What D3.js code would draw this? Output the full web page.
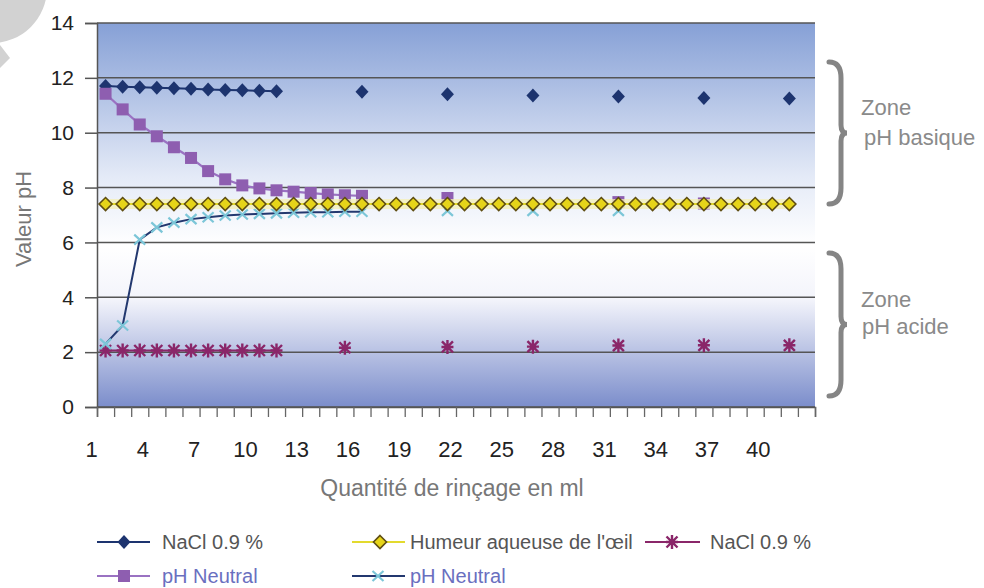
<!DOCTYPE html>
<html>
<head>
<meta charset="utf-8">
<script src="https://cdn.jsdelivr.net/npm/d3@7"></script>
<style>
  body { margin: 0; background: #fff; }
  svg { display: block; font-family: "Liberation Sans", Arial, sans-serif; }
</style>
</head>
<body>
<svg id="chart" width="984" height="588"></svg>
<script>
// categories on the x axis (ml)
const categories = [1, 2, 3, 4, 5, 6, 7, 8, 9, 10, 11, 12, 13, 14, 15, 16, 17, 18, 19, 20, 21,
  22, 23, 24, 25, 26, 27, 28, 29, 30, 31, 32, 33, 34, 35, 36, 37, 38, 39, 40, 41, 42];
const xTickLabels = [1, 4, 7, 10, 13, 16, 19, 22, 25, 28, 31, 34, 37, 40];
const yTicks = [0, 2, 4, 6, 8, 10, 12, 14];

// NaCl 0.9 % (basic, navy diamonds)
const naclBaseX = [1, 2, 3, 4, 5, 6, 7, 8, 9, 10, 11, 16, 21, 26, 31, 36, 41];
const naclBaseY = [11.7, 11.68, 11.66, 11.64, 11.62, 11.6, 11.58, 11.56, 11.55, 11.53, 11.51,
  11.49, 11.4, 11.36, 11.32, 11.27, 11.25];

// Humeur aqueuse de l'oeil (yellow diamonds)
const humeurX = [1, 2, 3, 4, 5, 6, 7, 8, 9, 10, 11, 12, 13, 14, 15, 16, 17, 18, 19, 20, 21,
  22, 23, 24, 25, 26, 27, 28, 29, 30, 31, 32, 33, 34, 35, 36, 37, 38, 39, 40, 41];
const humeurY = [7.4, 7.4, 7.4, 7.4, 7.4, 7.4, 7.4, 7.4, 7.4, 7.4, 7.4, 7.4, 7.4, 7.4, 7.4, 7.4,
  7.4, 7.4, 7.4, 7.4, 7.4, 7.4, 7.4, 7.4, 7.4, 7.4, 7.4, 7.4, 7.4, 7.4, 7.4, 7.4, 7.4, 7.4, 7.4,
  7.4, 7.4, 7.4, 7.4, 7.4, 7.4];

// NaCl 0.9 % (acid, purple asterisks)
const naclAcidX = [1, 2, 3, 4, 5, 6, 7, 8, 9, 10, 11, 15, 21, 26, 31, 36, 41];
const naclAcidY = [2.06, 2.06, 2.06, 2.06, 2.06, 2.06, 2.06, 2.06, 2.06, 2.06, 2.06,
  2.16, 2.19, 2.2, 2.24, 2.25, 2.25];

// pH Neutral (purple squares)
const neutralSqX = [1, 2, 3, 4, 5, 6, 7, 8, 9, 10, 11, 12, 13, 14, 15, 16, 21, 31, 36];
const neutralSqY = [11.42, 10.85, 10.3, 9.87, 9.47, 9.08, 8.6, 8.3, 8.08, 7.97, 7.9, 7.85,
  7.8, 7.75, 7.72, 7.7, 7.62, 7.47, 7.42];

// pH Neutral (cyan crosses)
const neutralXX = [1, 2, 3, 4, 5, 6, 7, 8, 9, 10, 11, 12, 13, 14, 15, 16, 21, 26, 31];
const neutralXY = [2.3, 2.97, 6.1, 6.55, 6.72, 6.85, 6.92, 6.98, 7.02, 7.04, 7.06, 7.08,
  7.1, 7.1, 7.12, 7.12, 7.15, 7.15, 7.15];

const svg = d3.select("#chart");
const plot = { left: 97, right: 815, top: 23, bottom: 407 };

// edges of the category slots, and the centre of each slot
const xEdge = d3.scaleLinear().domain([0, categories.length]).range([plot.left, plot.right]);
const x = (c) => xEdge(categories.indexOf(c) + 0.5);
const y = d3.scaleLinear().domain([0, 14]).range([plot.bottom, plot.top]);

// decoration top-left
svg.append("circle").attr("cx", -8).attr("cy", -12).attr("r", 55).attr("fill", "#d2d2d2");
svg.append("path").attr("d", "M0,45 L10,58 L0,68 Z").attr("fill", "#d2d2d2");

// background gradient
const defs = svg.append("defs");
const grad = defs.append("linearGradient").attr("id", "bg")
  .attr("x1", "0%").attr("y1", "0%").attr("x2", "0%").attr("y2", "100%");
grad.append("stop").attr("offset", "0%").attr("stop-color", "#86a0d6");
grad.append("stop").attr("offset", "40%").attr("stop-color", "#e4eaf7");
grad.append("stop").attr("offset", "58%").attr("stop-color", "#ffffff");
grad.append("stop").attr("offset", "72%").attr("stop-color", "#f3f4fb");
grad.append("stop").attr("offset", "100%").attr("stop-color", "#7b8dcb");

svg.append("rect")
  .attr("x", plot.left).attr("y", plot.top)
  .attr("width", plot.right - plot.left).attr("height", plot.bottom - plot.top)
  .attr("fill", "url(#bg)");

// horizontal gridlines
svg.append("g")
  .selectAll("line")
  .data(yTicks)
  .join("line")
  .attr("x1", plot.left).attr("x2", plot.right)
  .attr("y1", (d) => y(d)).attr("y2", (d) => y(d))
  .attr("stroke", "#555").attr("stroke-width", 1.5);

// y axis
const yAxis = svg.append("g")
  .attr("transform", `translate(${plot.left},0)`)
  .call(d3.axisLeft(y).tickValues(yTicks).tickSize(12).tickPadding(11));
yAxis.select(".domain").attr("stroke", "#555").attr("stroke-width", 1.5);
yAxis.selectAll(".tick line").attr("stroke", "#555").attr("stroke-width", 1.5);
yAxis.selectAll("text").attr("font-size", 21).attr("fill", "#222")
  .attr("font-family", "Liberation Sans, Arial, sans-serif");

// x axis tick marks at slot edges
const xAxis = svg.append("g")
  .attr("transform", `translate(0,${plot.bottom})`)
  .call(d3.axisBottom(xEdge).tickValues(d3.range(0, categories.length + 1)).tickSize(10).tickFormat(""));
xAxis.select(".domain").attr("stroke", "#555").attr("stroke-width", 1.5);
xAxis.selectAll(".tick line").attr("stroke", "#666").attr("stroke-width", 1.3);

// x labels every 3 categories
svg.append("g")
  .selectAll("text")
  .data(xTickLabels)
  .join("text")
  .attr("x", (d) => x(d) - 14)
  .attr("y", 457)
  .attr("text-anchor", "middle")
  .attr("font-size", 22)
  .attr("fill", "#222")
  .text((d) => d);

// axis titles
svg.append("text")
  .attr("x", 452).attr("y", 496)
  .attr("text-anchor", "middle")
  .attr("font-size", 23).attr("fill", "#777")
  .text("Quantité de rinçage en ml");

svg.append("text")
  .attr("transform", "translate(31,219) rotate(-90)")
  .attr("text-anchor", "middle")
  .attr("font-size", 22).attr("fill", "#777")
  .text("Valeur pH");

// marker shapes
const markers = {
  diamondNavy: (g) => g.append("path").attr("d", "M0,-7 L6.5,0 L0,7 L-6.5,0 Z").attr("fill", "#1d346f"),
  diamondYellow: (g) => g.append("path").attr("d", "M0,-6.5 L6.5,0 L0,6.5 L-6.5,0 Z")
    .attr("fill", "#e6d419").attr("stroke", "#5e4d12").attr("stroke-width", 1.6),
  asterisk: (g) => g.append("path").attr("d", "M-5.5,-5.5 L5.5,5.5 M5.5,-5.5 L-5.5,5.5 M0,-7 L0,7 M-6,0 L6,0")
    .attr("stroke", "#8a2669").attr("stroke-width", 2.4).attr("fill", "none"),
  square: (g) => g.append("rect").attr("x", -6).attr("y", -6).attr("width", 12).attr("height", 12)
    .attr("fill", "#8e5eb0"),
  cross: (g) => g.append("path").attr("d", "M-5.5,-5 L5.5,5 M5.5,-5 L-5.5,5")
    .attr("stroke", "#7cc6d8").attr("stroke-width", 2.2).attr("fill", "none")
};

// connect only consecutive categories (gaps stay open)
function runs(xs, ys) {
  const out = [];
  let cur = [];
  xs.forEach((c, i) => {
    if (cur.length && c - xs[i - 1] !== 1) { out.push(cur); cur = []; }
    cur.push([c, ys[i]]);
  });
  out.push(cur);
  return out.filter((r) => r.length > 1);
}

const line = d3.line().x((d) => x(d[0])).y((d) => y(d[1]));

function drawSeries(xs, ys, lineColor, lineWidth, marker, band) {
  const g = svg.append("g");
  const segs = runs(xs, ys);
  if (band) {
    g.selectAll(".band").data(segs).join("path").attr("class", "band")
      .attr("d", line).attr("fill", "none")
      .attr("stroke", band).attr("stroke-width", 10).attr("opacity", 0.75);
  }
  g.selectAll(".ln").data(segs).join("path").attr("class", "ln")
    .attr("d", line).attr("fill", "none")
    .attr("stroke", lineColor).attr("stroke-width", lineWidth);
  xs.forEach((c, i) => {
    const m = g.append("g").attr("transform", `translate(${x(c)},${y(ys[i])})`);
    marker(m);
  });
}

drawSeries(naclBaseX, naclBaseY, "#1d346f", 2, markers.diamondNavy);
drawSeries(naclAcidX, naclAcidY, "#8a2669", 2, markers.asterisk);
drawSeries(neutralSqX, neutralSqY, "#9a72c2", 2.2, markers.square);
drawSeries(neutralXX, neutralXY, "#23386f", 2, markers.cross);
drawSeries(humeurX, humeurY, "#e3da2e", 2, markers.diamondYellow, "#f4efb4");

// zone braces
function brace(xL, y0, y1) {
  const xm = xL + 12, ym = (y0 + y1) / 2, k = 16;
  return `M${xL},${y0} Q${xm},${y0} ${xm},${y0 + k} L${xm},${ym - 8} Q${xm},${ym} ${xm + 6},${ym}` +
    ` Q${xm},${ym} ${xm},${ym + 8} L${xm},${y1 - k} Q${xm},${y1} ${xL},${y1}`;
}
svg.append("path").attr("d", brace(829, 62, 204))
  .attr("fill", "none").attr("stroke", "#858585").attr("stroke-width", 5).attr("stroke-linecap", "round");
svg.append("path").attr("d", brace(829, 253, 396))
  .attr("fill", "none").attr("stroke", "#858585").attr("stroke-width", 5).attr("stroke-linecap", "round");

const zoneText = [
  { t: "Zone", x: 861, y: 115 }, { t: "pH basique", x: 864, y: 145 },
  { t: "Zone", x: 861, y: 307 }, { t: "pH acide", x: 862, y: 334 }
];
svg.append("g").selectAll("text").data(zoneText).join("text")
  .attr("x", (d) => d.x).attr("y", (d) => d.y)
  .attr("font-size", 22).attr("fill", "#8a8a8a")
  .text((d) => d.t);

// legend
const legendItems = [
  { label: "NaCl 0.9 %", x0: 97, x1: 150, mx: 124, tx: 162, y: 542, lc: "#1d346f", m: markers.diamondNavy, tc: "#555" },
  { label: "Humeur aqueuse de l'œil", x0: 352, x1: 405, mx: 380, tx: 410, y: 542, lc: "#e3da2e", m: markers.diamondYellow, tc: "#555" },
  { label: "NaCl 0.9 %", x0: 645, x1: 700, mx: 672, tx: 710, y: 542, lc: "#8a2669", m: markers.asterisk, tc: "#555" },
  { label: "pH Neutral", x0: 97, x1: 150, mx: 124, tx: 162, y: 576, lc: "#9a72c2", m: markers.square, tc: "#6a6fbf" },
  { label: "pH Neutral", x0: 352, x1: 405, mx: 378, tx: 410, y: 576, lc: "#23386f", m: markers.cross, tc: "#6a6fbf" }
];
const lg = svg.append("g");
legendItems.forEach((d) => {
  lg.append("line").attr("x1", d.x0).attr("x2", d.x1).attr("y1", d.y).attr("y2", d.y)
    .attr("stroke", d.lc).attr("stroke-width", 2);
  d.m(lg.append("g").attr("transform", `translate(${d.mx},${d.y})`));
  lg.append("text").attr("x", d.tx).attr("y", d.y + 7)
    .attr("font-size", 20).attr("fill", d.tc).text(d.label);
});
</script>
</body>
</html>
